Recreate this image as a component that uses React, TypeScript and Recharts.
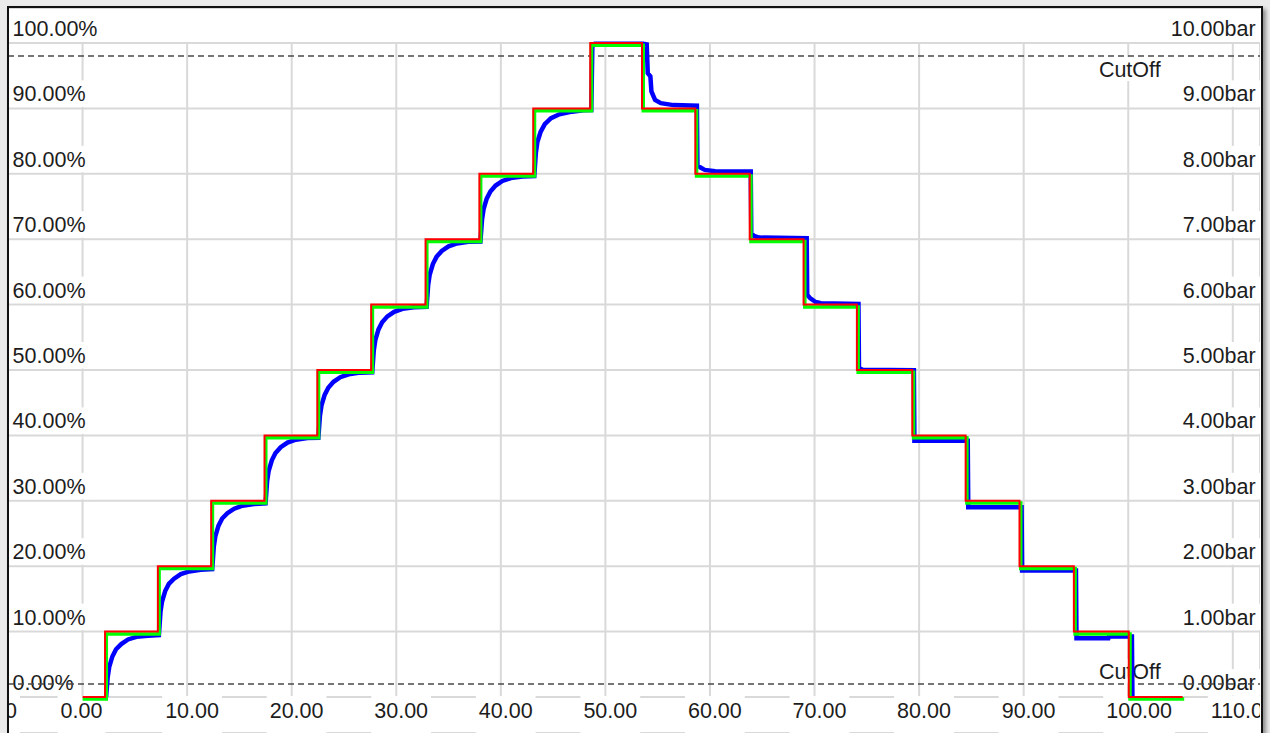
import React from 'react';
import { LineChart, Line, XAxis, YAxis, CartesianGrid, ReferenceLine } from 'recharts';

// setpoint (red): step times and levels in %
const stepTimes = [0, 2.15, 7.2, 12.3, 17.4, 22.45, 27.6, 32.8, 37.95, 43.1, 48.55, 53.5, 58.6, 63.8, 68.95, 74.05, 79.35, 84.45, 89.6, 94.8, 100.05, 105.2];
const stepLevels = [0, 10, 20, 30, 40, 50, 60, 70, 80, 90, 100, 90, 80, 70, 60, 50, 40, 30, 20, 10, 0, 0];

// green trace sits just under the setpoint
const greenTimes = [0, 2.27, 7.32, 12.42, 17.52, 22.57, 27.72, 32.92, 38.07, 43.22, 48.67, 53.62, 58.72, 63.92, 69.07, 74.17, 79.47, 84.57, 89.72, 94.92, 100.17, 105.35];
const greenLevels = [-0.3, 9.65, 19.65, 29.65, 39.65, 49.65, 59.65, 69.65, 79.65, 89.65, 99.65, 89.65, 79.65, 69.65, 59.65, 49.65, 39.65, 29.65, 19.65, 9.65, -0.3, -0.3];

// blue (measured) going up, [time, %]
const blueRising: [number, number][] = [
  [2.25, 0], [2.4, 3.0], [2.55, 4.6], [2.85, 6.2], [3.2, 7.3], [3.7, 8.1], [4.35, 8.8], [5.15, 9.2], [6.25, 9.35],
  [7.3, 9.45], [7.45, 13.0], [7.6, 14.6], [7.9, 16.2], [8.25, 17.3], [8.75, 18.1], [9.4, 18.8], [10.2, 19.2], [11.3, 19.45],
  [12.4, 19.55], [12.55, 23.0], [12.7, 24.6], [13.0, 26.2], [13.35, 27.3], [13.85, 28.1], [14.5, 28.8], [15.3, 29.25], [16.4, 29.5],
  [17.5, 29.6], [17.65, 33.0], [17.8, 34.6], [18.1, 36.2], [18.45, 37.3], [18.95, 38.2], [19.6, 38.9], [20.4, 39.35], [21.5, 39.6],
  [22.55, 39.65], [22.7, 43.0], [22.85, 44.6], [23.15, 46.2], [23.5, 47.3], [24.0, 48.2], [24.65, 48.9], [25.45, 49.35], [26.55, 49.6],
  [27.7, 49.65], [27.85, 53.0], [28.0, 54.6], [28.3, 56.2], [28.65, 57.3], [29.15, 58.2], [29.8, 58.9], [30.6, 59.35], [31.7, 59.6],
  [32.9, 59.65], [33.05, 63.0], [33.2, 64.6], [33.5, 66.2], [33.85, 67.3], [34.35, 68.2], [35.0, 68.9], [35.8, 69.35], [36.9, 69.6],
  [38.05, 69.65], [38.2, 73.0], [38.35, 74.6], [38.65, 76.2], [39.0, 77.3], [39.5, 78.2], [40.15, 78.9], [40.95, 79.35], [42.05, 79.6],
  [43.2, 79.65], [43.35, 83.2], [43.5, 84.9], [43.8, 86.4], [44.2, 87.6], [44.8, 88.5], [45.6, 89.1], [46.8, 89.5], [47.9, 89.7],
  [48.65, 89.75], [48.75, 99.4], [49.0, 99.9],
];

// blue going down
const blueFalling: [number, number][] = [
  [53.6, 99.9], [53.95, 99.8], [54.05, 95.4], [54.3, 94.9], [54.4, 92.6], [54.75, 91.3], [55.3, 90.8], [56.5, 90.5],
  [58.75, 90.4], [58.8, 81.3], [59.1, 80.95], [59.5, 80.6], [60.5, 80.4],
  [63.9, 80.35], [63.95, 70.9], [64.2, 70.5], [64.7, 70.25],
  [69.25, 70.15], [69.3, 61.5], [69.6, 60.95], [70.1, 60.4], [70.6, 60.2],
  [74.2, 60.1], [74.25, 50.3], [74.6, 50.05],
  [79.5, 49.95], [79.55, 39.2],
  [84.65, 39.2], [84.7, 29.0],
  [89.8, 29.0], [89.85, 19.35],
  [95.0, 19.35], [95.05, 9.0],
  [98.1, 9.0], [98.15, 9.25],
  [100.35, 9.25], [100.4, 0],
];

const xTicks = [-10, 0, 10, 20, 30, 40, 50, 60, 70, 80, 90, 100, 110];
const pctTicks = [0, 10, 20, 30, 40, 50, 60, 70, 80, 90, 100];
const barTicks = [0, 1, 2, 3, 4, 5, 6, 7, 8, 9, 10];
const cutOffLevels = [98, 2];

const redData = stepTimes.map((t, i) => ({ t, v: stepLevels[i] }));
const greenData = greenTimes.map((t, i) => ({ t, v: greenLevels[i] }));
const blueData = [...blueRising, ...blueFalling].map(([t, v]) => ({ t, v }));

const W = 1282;
const H = 725;
const X_DOMAIN: [number, number] = [-10, 112.6];
const PCT_DOMAIN: [number, number] = [-5.5, 105.35];
const BAR_DOMAIN: [number, number] = [-0.55, 10.535];
const MARGIN = { top: 0, right: 0, bottom: 0, left: 0 };
// grid box spans 0 % .. 100 %
const GRID_TOP = 35;
const GRID_H = 654;

const FONT = '"Liberation Sans", Arial, sans-serif';
const FS = 21.5;
const INK = '#1c1c1c';
const GRID = '#d9d9d9';

const EM: Record<string, number> = {
  '.': 0.278, '%': 0.889, '-': 0.333, b: 0.556, a: 0.556, r: 0.333,
  C: 0.722, u: 0.556, t: 0.278, O: 0.778, f: 0.278,
};
const textWidth = (s: string) => s.split('').reduce((w, c) => w + (EM[c] ?? 0.556), 0) * FS;

const txt = { fontFamily: FONT, fontSize: FS, fill: INK };

const XTick = (props: any) => {
  const { x, payload } = props;
  const label = Number(payload.value).toFixed(2);
  const left = x - 22;
  const w = textWidth(label);
  return (
    <g>
      <rect x={left - 3} y={688} width={w + 6} height={40} fill="#fff" />
      <text x={left} y={710} textAnchor="start" {...txt}>{label}</text>
    </g>
  );
};

const PctTick = (props: any) => {
  const { y, payload } = props;
  const label = `${Number(payload.value).toFixed(2)}%`;
  const w = textWidth(label);
  return (
    <g>
      <rect x={30.6} y={y - 28} width={w + 8} height={26.5} fill="#fff" />
      <text x={34.6} y={y - 7} textAnchor="start" {...txt}>{label}</text>
    </g>
  );
};

const BarTick = (props: any) => {
  const { y, payload } = props;
  const label = `${Number(payload.value).toFixed(2)}bar`;
  const w = textWidth(label);
  return (
    <g>
      <rect x={1277.6 - w - 4} y={y - 28} width={w + 10} height={26.5} fill="#fff" />
      <text x={1277.6} y={y - 7} textAnchor="end" {...txt}>{label}</text>
    </g>
  );
};

const cutOffLabel = (below: boolean) => (props: any) => {
  const y = props.viewBox?.y ?? 0;
  const left = 1120.9;
  const w = textWidth('CutOff');
  return (
    <g>
      <rect x={left - 3} y={below ? y + 1 : y - 25} width={w + 6} height={24} fill="#fff" />
      <text x={left} y={below ? y + 21 : y - 5} textAnchor="start" {...txt}>CutOff</text>
    </g>
  );
};

const App: React.FC = () => {
  return (
    <div style={{ position: 'absolute', left: 0, top: 0, width: 1270, height: 733, background: '#ebebeb', overflow: 'hidden' }}>
      <div
        style={{
          position: 'absolute', left: 7, top: 6, width: 1252, height: 740,
          border: '2px solid #111', background: '#fff', overflow: 'hidden',
          boxShadow: '3px 3px 4px rgba(0,0,0,0.4)',
        }}
      >
        {/* grid + labels */}
        <div style={{ position: 'absolute', left: -30.6, top: 0 }}>
          <LineChart width={W} height={H} margin={MARGIN}>
            <CartesianGrid yAxisId="pct" vertical={false} stroke={GRID} strokeWidth={2} />
            <CartesianGrid yAxisId="pct" horizontal={false} y={GRID_TOP} height={GRID_H} stroke={GRID} strokeWidth={2} />
            <XAxis
              type="number" dataKey="t" domain={X_DOMAIN} ticks={xTicks} interval={0}
              allowDataOverflow mirror height={30} axisLine={false} tickLine={false}
              tick={(p: any) => <XTick {...p} />}
            />
            <YAxis
              yAxisId="pct" type="number" domain={PCT_DOMAIN} ticks={pctTicks} interval={0}
              allowDataOverflow mirror width={40} axisLine={false} tickLine={false}
              tick={(p: any) => <PctTick {...p} />}
            />
            <YAxis
              yAxisId="bar" orientation="right" type="number" domain={BAR_DOMAIN} ticks={barTicks} interval={0}
              allowDataOverflow mirror width={40} axisLine={false} tickLine={false}
              tick={(p: any) => <BarTick {...p} />}
            />
            {cutOffLevels.map(c => (
              <ReferenceLine key={`c${c}`} yAxisId="pct" y={c} stroke="none" label={cutOffLabel(c > 50)} />
            ))}
          </LineChart>
        </div>

        {/* cut-off lines + traces */}
        <div style={{ position: 'absolute', left: -30.6, top: 0 }}>
          <LineChart width={W} height={H} margin={MARGIN}>
            <XAxis type="number" dataKey="t" domain={X_DOMAIN} allowDataOverflow hide />
            <YAxis yAxisId="pct" type="number" domain={PCT_DOMAIN} allowDataOverflow hide />
            {cutOffLevels.map(c => (
              <ReferenceLine key={c} yAxisId="pct" y={c} stroke="#4a4a4a" strokeWidth={1.5} strokeDasharray="6 4" />
            ))}
            <Line yAxisId="pct" data={blueData} dataKey="v" type="linear" stroke="#0000ff" strokeWidth={4.5}
              dot={false} activeDot={false} isAnimationActive={false} />
            <Line yAxisId="pct" data={greenData} dataKey="v" type="stepAfter" stroke="#00ff00" strokeWidth={3.5}
              dot={false} activeDot={false} isAnimationActive={false} />
            <Line yAxisId="pct" data={redData} dataKey="v" type="stepAfter" stroke="#ff0000" strokeWidth={2}
              dot={false} activeDot={false} isAnimationActive={false} />
          </LineChart>
        </div>
      </div>
    </div>
  );
};

export default App;
